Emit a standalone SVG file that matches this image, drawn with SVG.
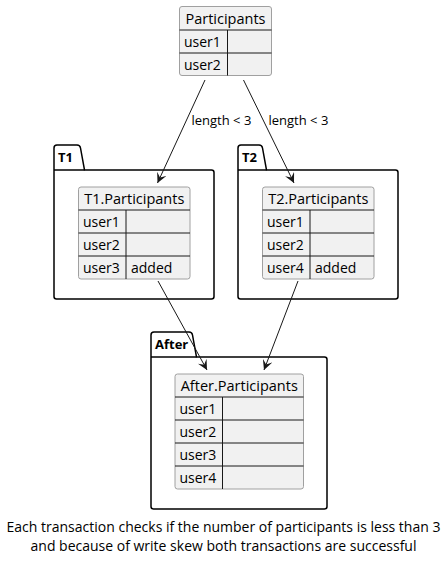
<svg xmlns="http://www.w3.org/2000/svg" width="447" height="563" viewBox="0 0 447 563">
<defs>
<marker id="ah" viewBox="0 0 10 10" refX="10" refY="5" markerWidth="10" markerHeight="10" markerUnits="userSpaceOnUse" orient="auto">
<path d="M0,0 L10,5 L0,10 L4,5 Z" fill="#181818"/>
</marker>
<style>
text{font-family:"Open Sans","Noto Sans","DejaVu Sans",sans-serif;fill:#000}
.tbl{fill:#F1F1F1;stroke:#A0A0A0;stroke-width:1}
.grid{stroke:#181818;stroke-width:1;fill:none}
.cell{font-size:14px}
.hdr{font-size:14.5px;text-anchor:middle}
.pkg{fill:#FFFFFF;stroke:#000;stroke-width:1.5}
.ptitle{font-size:13px;font-weight:bold}
.edge{stroke:#181818;stroke-width:1;fill:none;marker-end:url(#ah)}
.lbl{font-size:13px}
.cap{font-size:14px;text-anchor:middle}
</style>
</defs>

<g id="participants">
<rect class="tbl" x="179.5" y="6.5" width="92" height="69" rx="2.5"/>
<path class="grid" d="M179.5,30 H271.5 M179.5,53 H271.5 M227.5,30 V75.5"/>
<text class="hdr" x="225.5" y="23.5">Participants</text>
<text class="cell" x="184" y="47">user1</text>
<text class="cell" x="184" y="70">user2</text>
</g>

<g id="T1">
<path class="pkg" d="M54,170 V148 Q54,145 57,145 H77 Q80,145 80.5,148 L84.5,170 H211.5 Q214,170 214,172.5 V296.5 Q214,299 211.5,299 H56.5 Q54,299 54,296.5 Z"/>
<path class="pkg" d="M54,170 H84.5" fill="none"/>
<text class="ptitle" x="58" y="162">T1</text>
<g id="T1.Participants">
<rect class="tbl" x="78.5" y="187" width="111.5" height="92" rx="2.5"/>
<path class="grid" d="M78.5,210 H190 M78.5,233 H190 M78.5,256 H190 M126,210 V279"/>
<text class="hdr" x="134.25" y="204">T1.Participants</text>
<text class="cell" x="83" y="227">user1</text>
<text class="cell" x="83" y="250">user2</text>
<text class="cell" x="83" y="273">user3</text>
<text class="cell" x="131" y="273">added</text>
</g>
</g>

<g id="T2">
<path class="pkg" d="M238,170 V148 Q238,145 241,145 H259 Q262,145 262.5,148 L266.5,170 H395.5 Q398,170 398,172.5 V296.5 Q398,299 395.5,299 H240.5 Q238,299 238,296.5 Z"/>
<path class="pkg" d="M238,170 H266.5" fill="none"/>
<text class="ptitle" x="242" y="162">T2</text>
<g id="T2.Participants">
<rect class="tbl" x="262.5" y="187" width="111.5" height="92" rx="2.5"/>
<path class="grid" d="M262.5,210 H374 M262.5,233 H374 M262.5,256 H374 M310,210 V279"/>
<text class="hdr" x="318.25" y="204">T2.Participants</text>
<text class="cell" x="267" y="227">user1</text>
<text class="cell" x="267" y="250">user2</text>
<text class="cell" x="267" y="273">user4</text>
<text class="cell" x="315" y="273">added</text>
</g>
</g>

<g id="After">
<path class="pkg" d="M151,357 V335 Q151,332 154,332 H189 Q192,332 192.5,335 L196.5,357 H324.5 Q327,357 327,359.5 V506.5 Q327,509 324.5,509 H153.5 Q151,509 151,506.5 Z"/>
<path class="pkg" d="M151,357 H196.5" fill="none"/>
<text class="ptitle" x="155" y="349">After</text>
<g id="After.Participants">
<rect class="tbl" x="175" y="374" width="128.5" height="115" rx="2.5"/>
<path class="grid" d="M175,397 H303.5 M175,420 H303.5 M175,443 H303.5 M175,466 H303.5 M222.5,397 V489"/>
<text class="hdr" x="239.25" y="391">After.Participants</text>
<text class="cell" x="179.5" y="414">user1</text>
<text class="cell" x="179.5" y="437">user2</text>
<text class="cell" x="179.5" y="460">user3</text>
<text class="cell" x="179.5" y="483">user4</text>
</g>
</g>

<g id="connectors">
<path class="edge" d="M205,80 L157.5,183"/>
<path class="edge" d="M243.5,80 L294,183"/>
<path class="edge" d="M158,281 L207,370"/>
<path class="edge" d="M298,281 L264,370"/>
<text class="lbl" x="191.5" y="125">length &lt; 3</text>
<text class="lbl" x="268.5" y="125">length &lt; 3</text>
</g>

<g id="caption">
<text class="cap" x="223.5" y="532">Each transaction checks if the number of participants is less than 3</text>
<text class="cap" x="223.5" y="551">and because of write skew both transactions are successful</text>
</g>
</svg>
